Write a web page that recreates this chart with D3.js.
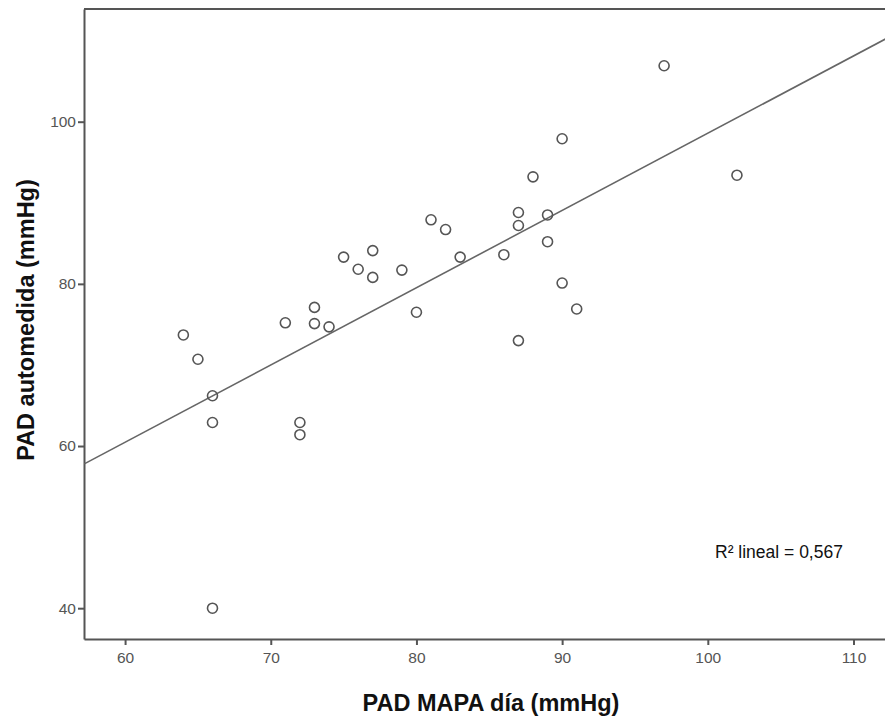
<!DOCTYPE html>
<html>
<head>
<meta charset="utf-8">
<script src="https://cdn.jsdelivr.net/npm/d3@7"></script>
<style>
  body { margin: 0; background: #fff; }
  text { font-family: Arial, "Liberation Sans", sans-serif; }
</style>
</head>
<body>
<div id="chart"></div>
<script>
// data
let padMapa = [97, 90, 102, 88, 87, 89, 87, 81, 82, 83, 86, 89, 75, 77, 76, 77,
               79, 80, 90, 91, 87, 73, 71, 73, 74, 64, 65, 66, 66, 72, 72, 66];
let padAuto = [106.9, 97.9, 93.4, 93.2, 88.8, 88.5, 87.2, 87.9, 86.7, 83.3, 83.6, 85.2, 83.3, 84.1, 81.8, 80.8,
               81.7, 76.5, 80.1, 76.9, 73.0, 77.1, 75.2, 75.1, 74.7, 73.7, 70.7, 66.2, 62.9, 62.9, 61.4, 40.0];
let xTicks = [60, 70, 80, 90, 100, 110];
let yTicks = [40, 60, 80, 100];
// fit line (R2 = 0.567)
let fitX = [57.2, 112.3];
let fitY = [57.8, 110.3];
let r2Label = 'R² lineal = 0,567';

let width = 885;
let height = 720;
let margin = { top: 9, right: -2, bottom: 81, left: 84 };

let svg = d3.select('#chart')
    .append('svg')
    .attr('width', width)
    .attr('height', height);

let x = d3.scaleLinear()
    .domain([57.18, 112.3])
    .range([margin.left, width - margin.right]);

let y = d3.scaleLinear()
    .domain([36.2, 113.9])
    .range([height - margin.bottom, margin.top]);

let axisColor = '#555';

// top border of the frame
svg.append('line')
    .attr('x1', margin.left).attr('x2', width + 2)
    .attr('y1', margin.top).attr('y2', margin.top)
    .attr('stroke', axisColor)
    .attr('stroke-width', 2);

// axes
let xAxis = svg.append('g')
    .attr('transform', `translate(0,${height - margin.bottom})`)
    .call(d3.axisBottom(x).tickValues(xTicks).tickSize(6).tickSizeOuter(0).tickPadding(7));

let yAxis = svg.append('g')
    .attr('transform', `translate(${margin.left},0)`)
    .call(d3.axisLeft(y).tickValues(yTicks).tickSize(6).tickSizeOuter(0).tickPadding(2));

[xAxis, yAxis].forEach(g => {
    g.select('.domain').attr('stroke', axisColor).attr('stroke-width', 2);
    g.selectAll('.tick line').attr('stroke', axisColor).attr('stroke-width', 2);
    g.selectAll('.tick text')
        .attr('fill', '#555')
        .style('font-family', 'Arial, "Liberation Sans", sans-serif')
        .style('font-size', '15.5px');
});

// regression line
svg.append('line')
    .attr('x1', x(fitX[0])).attr('y1', y(fitY[0]))
    .attr('x2', x(fitX[1])).attr('y2', y(fitY[1]))
    .attr('stroke', '#666')
    .attr('stroke-width', 1.6);

// points
svg.selectAll('.pt')
    .data(padMapa.map((v, i) => ({ mapa: v, auto: padAuto[i] })))
    .enter()
    .append('circle')
    .attr('class', 'pt')
    .attr('cx', d => x(d.mapa))
    .attr('cy', d => y(d.auto))
    .attr('r', 5)
    .attr('fill', 'none')
    .attr('stroke', '#555')
    .attr('stroke-width', 1.6);

// R2 label
svg.append('text')
    .attr('x', 715)
    .attr('y', 558)
    .style('font-size', '17.5px')
    .attr('fill', '#111')
    .text(r2Label);

// axis titles
svg.append('text')
    .attr('x', 491)
    .attr('y', 711)
    .attr('text-anchor', 'middle')
    .style('font-size', '23.5px')
    .style('font-weight', 'bold')
    .attr('fill', '#111')
    .text('PAD MAPA día (mmHg)');

svg.append('text')
    .attr('transform', 'translate(34,320) rotate(-90)')
    .attr('text-anchor', 'middle')
    .style('font-size', '23.5px')
    .style('font-weight', 'bold')
    .attr('fill', '#111')
    .text('PAD automedida (mmHg)');
</script>
</body>
</html>
